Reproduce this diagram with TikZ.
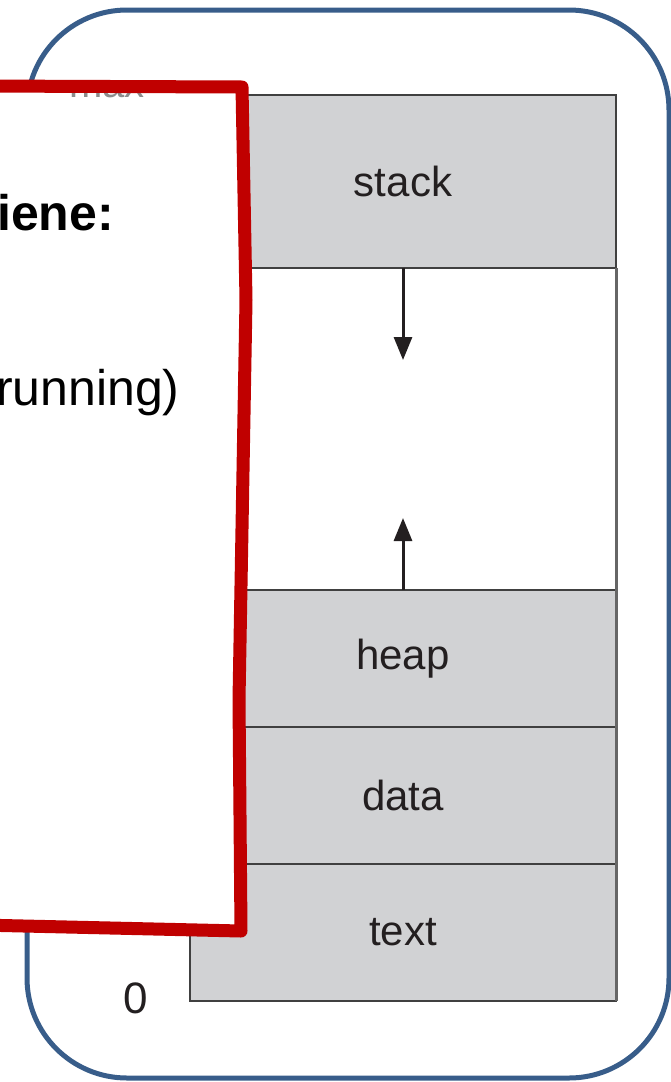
\documentclass[tikz,border=0pt]{standalone}
\usepackage{fontspec}
\setmainfont{Liberation Sans}
\usetikzlibrary{arrows.meta}
\definecolor{frameblue}{RGB}{56,93,138}
\definecolor{alertred}{RGB}{192,0,0}
\definecolor{segfill}{RGB}{209,210,212}
\definecolor{segline}{RGB}{64,64,64}
\definecolor{inkdark}{RGB}{35,31,32}
\begin{document}
\begin{tikzpicture}[x=1pt,y=-1pt,
  segment/.style={draw=segline,line width=2.5pt,fill=segfill,minimum width=426pt,
    inner sep=0pt,outer sep=0pt,font=\fontsize{42}{50}\selectfont,text=inkdark},
  freeseg/.style={segment,fill=white},
  growth/.style={draw=inkdark,line width=3pt,-{Triangle[length=23pt,width=18pt]}},
  redframe/.style={draw=alertred,line width=13pt,line join=round},
  boxtext/.style={anchor=base west,inner sep=0pt,font=\fontsize{50}{60}\selectfont}]
  \useasboundingbox (0,0) rectangle (671,1082);
  % outer rounded frame
  \draw[frameblue,line width=5pt,rounded corners=100pt] (27,10) rectangle (669,1078);
  % memory segments, top to bottom
  \node[segment,minimum height=173pt] (stack) at (403,181.5) {stack};
  \node[freeseg,minimum height=322pt] (gap) at (403,429) {};
  \node[segment,minimum height=137pt] (heap) at (403,658.5) {heap};
  \node[segment,minimum height=137pt] (data) at (403,795.5) {data};
  \node[segment,minimum height=137pt] (text) at (403,932.5) {text};
  \draw[segline!80,line width=3pt] (gap.north east) -- (text.south east);
  \node[font=\fontsize{44}{52}\selectfont,text=inkdark] (zero) at (136,998) {0};
  % growth directions of stack and heap
  \coordinate (downtip) at (403,360);
  \coordinate (uptip) at (403,518);
  \draw[growth] (stack.south) -- (downtip);
  \draw[growth] (heap.north) -- (uptip);
  % overlay box: white body, the label peeking under its top edge, then the red outline
  \def\overlaypath{(-20,86) -- (242,87) -- (246,300) -- (239,700) -- (241,931) -- (-20,925) -- cycle}
  \fill[white] \overlaypath;
  \begin{scope}
    \clip (60,93) rectangle (150,98);
    \node[anchor=base,font=\fontsize{40}{48}\selectfont,text=black!45] (maxlbl) at (107,97) {max};
  \end{scope}
  \draw[redframe] (-20,86) -- (242,87) -- (246,300) -- (239,700) -- (241,931) -- (-20,925);
  \node[boxtext,font=\bfseries\fontsize{50}{60}\selectfont] (heading) at (-3,230) {iene:};
  \node[boxtext] (item) at (-4,405) {running)};
\end{tikzpicture}
\end{document}
